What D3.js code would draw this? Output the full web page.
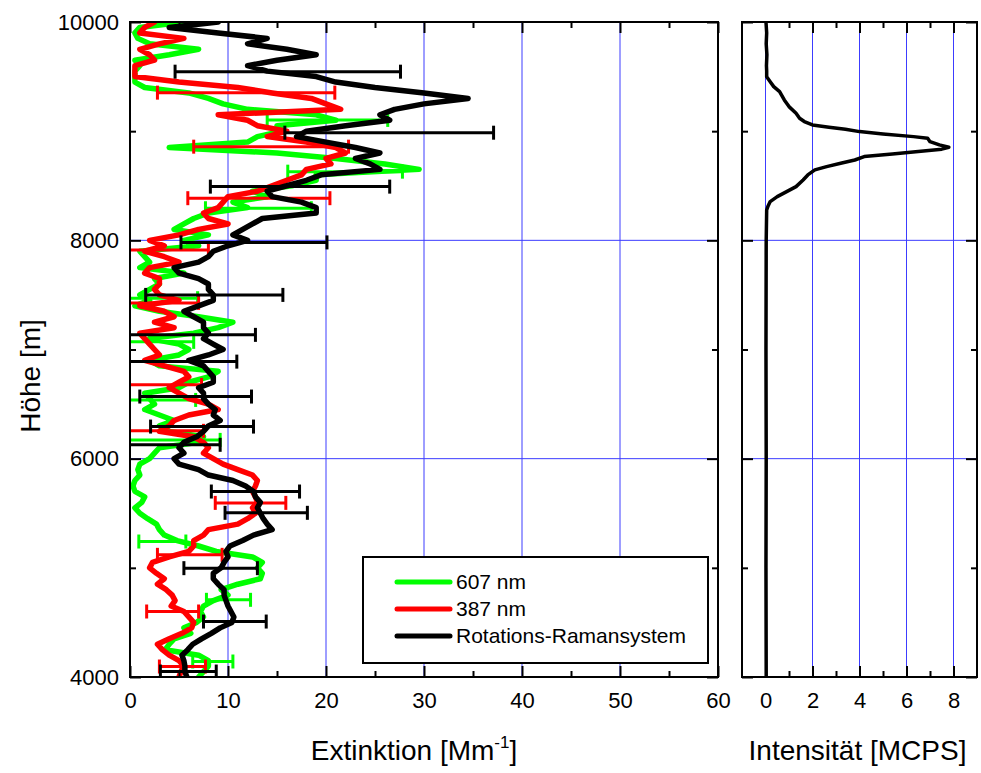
<!DOCTYPE html>
<html><head><meta charset="utf-8">
<script src="https://cdn.jsdelivr.net/npm/d3@7"></script>
<style>
html,body{margin:0;padding:0;background:#fff;}
svg{display:block;font-family:"Liberation Sans",Arial,sans-serif;}
</style></head>
<body>
<svg id="chart" width="981" height="773"></svg>
<script>
// ---------- DATA ----------
const altitudes = [10000,9950,9900,9850,9800,9750,9700,9650,9600,9550,9500,9450,9400,9350,9300,9250,9200,9150,9100,9050,
9000,8950,8900,8850,8800,8750,8700,8650,8600,8550,8500,8450,8400,8350,8300,8250,8200,8150,8100,8050,
8000,7950,7900,7850,7800,7750,7700,7650,7600,7550,7500,7450,7400,7350,7300,7250,7200,7150,7100,7050,
7000,6950,6900,6850,6800,6750,6700,6650,6600,6550,6500,6450,6400,6350,6300,6250,6200,6150,6100,6050,
6000,5950,5900,5850,5800,5750,5700,5650,5600,5550,5500,5450,5400,5350,5300,5250,5200,5150,5100,5050,
5000,4950,4900,4850,4800,4750,4700,4650,4600,4550,4500,4450,4400,4350,4300,4250,4200,4150,4100,4050,4000];

const ext607 = [5.5,1,0.5,0.8,2,7,4,0.5,1,0.5,0.5,0.5,1.5,6,8,9.5,12,19,21,15,
15.5,13,12,4,15,21,26,29.5,19,19,16.5,12.5,14,10.5,12,8,6.5,5.5,4.5,8,
5.5,7,1,1.5,2,1,5.5,2.5,3,2,1,2,0.5,3,7,10.5,9,6.5,2,5,
6,5,2,3,9,8,6,5,1.5,2,2.5,1.5,3,4.5,3,4,7.5,7,3,2.5,
2,1,0.8,1,0.5,0.3,0.5,1.5,1.2,0.5,1,1.8,2.7,3,3.5,4.8,7,8.8,12.5,13.5,
13,13.5,13.3,11,9.3,10,8.5,7.5,7.2,7.5,6.8,5.5,6.2,4.5,4,3.6,7,8,8,7.5,7];

const ext387 = [2.5,1.5,1,5.5,3,1,2,2.5,0.5,0.5,0.5,5,11,14.5,18.5,20,21.5,9,12,13,
16,14,18,21,22,20,20.5,18,17.5,16,14.5,13,10,9.5,9,7.5,8,10,7,5,
2,3.5,1.5,3.5,5,2,1.5,3,3,2.5,3,5,1,3.5,4.5,2.5,4.5,1,1.5,2,
2.5,3,1.5,3.5,5.5,6,5,4,5,6,8,9,6,4.5,4,3,6.5,7.5,8,7.5,
8.5,9.5,11,12.5,13,12.8,12.5,12.8,13,12.5,12.8,12,11,8,7.5,6.5,6.5,6,4,2.3,
2,2.7,3.5,2.8,3.7,4.3,4.6,4.2,5.5,6,6.5,6.3,5.3,4,2.8,3.3,4,5,5.5,5.2,5];

const extRot = [9,4,9,14,12,16,19,15,12,14,19,21,25,30,34.5,30,27,25.5,26.5,22,
18,17,20,23,25.5,23,24.5,25.5,19.5,18,16,14,14.5,17.5,19,19,13.5,12.5,11.5,10.5,
12,10,8.5,8,7,4.5,5,7,8,8,8.5,8.5,7,5.5,6.5,7.5,7.5,8,7.5,8.5,
9.5,8,6,7.5,8,8.5,8.5,7,7.5,7.5,8,8.7,8.5,9.2,8,7.5,6.8,5.5,5,5.5,
4.5,5,7,8,10.5,11.8,12.6,12.8,13.3,13,13.3,13.6,14,14.5,12.6,11.5,10.2,9.8,10,9.6,
9.3,8.5,8.5,9,9.6,9.6,9.8,10,10.3,10.6,10.4,9.2,8.3,7.3,6.4,5.9,5.3,5.5,5.6,5.6,5.8];

// error bars: altitude, low, high
const err607Alt = [9103,8629,8294,7470,7070,6538,6172,5241,4707,4142];
const err607Lo  = [14.0,16.1,7.7,-0.5,-0.5,-0.5,-0.5,0.9,7.8,6.4];
const err607Hi  = [26.3,27.8,18.5,6.9,6.5,6.7,9.2,5.7,12.3,10.5];

const err387Alt = [9353,8858,8386,7912,7427,6676,6255,5595,5119,4600,4096];
const err387Lo  = [2.8,6.5,5.9,-0.5,-0.5,-0.5,-0.5,8.7,2.8,1.7,3.0];
const err387Hi  = [20.9,22.3,20.4,8.0,7.0,7.3,7.5,15.9,9.4,7.0,7.7];

const errRotAlt = [9545,8986,8492,7981,7500,7134,6889,6569,6294,6127,5699,5504,4997,4508,4050];
const errRotLo  = [4.6,15.8,8.2,5.2,1.6,-0.5,-0.5,1.0,2.1,-0.5,8.3,9.7,5.5,7.5,3.1];
const errRotHi  = [27.6,37.1,26.5,20.1,15.6,12.8,10.9,12.4,12.6,9.2,17.3,18.1,13.0,13.9,8.8];

const intAlt = [10000,9900,9800,9700,9600,9550,9499,9453,9408,9362,9286,9225,9164,9118,9088,9057,9036,9017,8996,8974,
8950,8935,8904,8874,8853,8835,8813,8791,8767,8736,8706,8675,8645,8599,8553,8492,8446,8400,8355,8309,8278,8000,7000,6000,5000,4000];
const intVal = [0.02,0.05,0.03,0.06,0.04,0.05,0.05,0.2,0.35,0.6,0.8,1.0,1.3,1.45,1.65,2.0,2.7,3.4,4.0,5.0,
6.3,6.9,7.0,7.4,7.8,7.5,6.5,5.4,4.2,3.8,3.2,2.6,2.1,1.8,1.6,1.3,0.9,0.5,0.2,0.1,0.05,0.03,0.02,0.03,0.02,0.03];

const seriesNames = ["607 nm","387 nm","Rotations-Ramansystem"];
const seriesColors = ["#00ff00","#ff0000","#000000"];

const xTicksLeft = [0,10,20,30,40,50,60];
const xMinorLeft = [5,15,25,35,45,55];
const xTicksRight = [0,2,4,6,8];
const xMinorRight = [1,3,5,7];
const yTicks = [4000,6000,8000,10000];
const yMinor = [5000,7000,9000];

// ---------- LAYOUT ----------
const svg = d3.select("#chart");
const yTop = 22, yBot = 677;
const L = {x0:130, x1:718};
const R = {x0:742, x1:977};
const y = d3.scaleLinear().domain([4000,10000]).range([yBot, yTop]);
const xL = d3.scaleLinear().domain([0,60]).range([L.x0, L.x1]);
const xR = d3.scaleLinear().domain([-1,9]).range([R.x0, R.x1]);
const gridColor = "#3c3cff";
const font = "22px";

const defs = svg.append("defs");
defs.append("clipPath").attr("id","clipL").append("rect")
  .attr("x",L.x0).attr("y",yTop).attr("width",L.x1-L.x0).attr("height",yBot-yTop);
defs.append("clipPath").attr("id","clipR").append("rect")
  .attr("x",R.x0).attr("y",yTop).attr("width",R.x1-R.x0).attr("height",yBot-yTop);

// grids
function grid(xs, xVals, x0, x1){
  const g = svg.append("g");
  g.selectAll("line.v").data(xVals).join("line")
    .attr("x1",d=>xs(d)).attr("x2",d=>xs(d)).attr("y1",yTop).attr("y2",yBot)
    .attr("stroke",gridColor).attr("stroke-width",1);
  g.selectAll("line.h").data([6000,8000]).join("line")
    .attr("x1",x0).attr("x2",x1).attr("y1",d=>y(d)).attr("y2",d=>y(d))
    .attr("stroke",gridColor).attr("stroke-width",1);
}
grid(xL,[10,20,30,40,50],L.x0,L.x1);
grid(xR,[0,2,4,6,8],R.x0,R.x1);

// series
const seriesVals = [ext607, ext387, extRot];
const errs = [
  {alt:err607Alt, lo:err607Lo, hi:err607Hi},
  {alt:err387Alt, lo:err387Lo, hi:err387Hi},
  {alt:errRotAlt, lo:errRotLo, hi:errRotHi}
];
const gL = svg.append("g").attr("clip-path","url(#clipL)");
const line = d3.line().x(d=>xL(d[1])).y(d=>y(d[0])).curve(d3.curveLinear);
seriesVals.forEach((vals,i)=>{
  const pts = altitudes.map((a,j)=>[a, vals[j]]);
  gL.append("path").datum(pts).attr("d",line)
    .attr("fill","none").attr("stroke",seriesColors[i]).attr("stroke-width",5.5)
    .attr("stroke-linejoin","round").attr("stroke-linecap","round");
  const e = errs[i];
  const eb = e.alt.map((a,j)=>({alt:a, lo:e.lo[j], hi:e.hi[j]}));
  const ge = gL.append("g").attr("stroke",seriesColors[i]).attr("stroke-width",3);
  ge.selectAll("line.bar").data(eb).join("line").attr("class","bar")
    .attr("x1",d=>xL(d.lo)).attr("x2",d=>xL(d.hi)).attr("y1",d=>y(d.alt)).attr("y2",d=>y(d.alt));
  ge.selectAll("line.capl").data(eb).join("line").attr("class","capl")
    .attr("x1",d=>xL(d.lo)).attr("x2",d=>xL(d.lo)).attr("y1",d=>y(d.alt)-7).attr("y2",d=>y(d.alt)+7);
  ge.selectAll("line.caph").data(eb).join("line").attr("class","caph")
    .attr("x1",d=>xL(d.hi)).attr("x2",d=>xL(d.hi)).attr("y1",d=>y(d.alt)-7).attr("y2",d=>y(d.alt)+7);
});

// intensity
const gR = svg.append("g").attr("clip-path","url(#clipR)");
gR.append("path").datum(intAlt.map((a,j)=>[a,intVal[j]]))
  .attr("d", d3.line().x(d=>xR(d[1])).y(d=>y(d[0])))
  .attr("fill","none").attr("stroke","#000").attr("stroke-width",3.5).attr("stroke-linejoin","round");

// axes
function styleAxis(g, labels){
  g.select(".domain").remove();
  g.selectAll(".tick line").attr("stroke","#000").attr("stroke-width",2);
  if(labels) g.selectAll(".tick text").attr("font-size",font).attr("fill","#000").attr("font-family","Liberation Sans, Arial, sans-serif");
  else g.selectAll(".tick text").remove();
}
function panelAxes(xs, x0, x1, majors, minors){
  styleAxis(svg.append("g").attr("transform",`translate(0,${yBot})`)
    .call(d3.axisBottom(xs).tickValues(majors).tickSize(-11).tickPadding(15).tickFormat(d3.format("d"))), true);
  styleAxis(svg.append("g").attr("transform",`translate(0,${yBot})`)
    .call(d3.axisBottom(xs).tickValues(minors).tickSize(-6)), false);
  styleAxis(svg.append("g").attr("transform",`translate(0,${yTop})`)
    .call(d3.axisTop(xs).tickValues(majors).tickSize(-11)), false);
  styleAxis(svg.append("g").attr("transform",`translate(0,${yTop})`)
    .call(d3.axisTop(xs).tickValues(minors).tickSize(-6)), false);
  styleAxis(svg.append("g").attr("transform",`translate(${x1},0)`)
    .call(d3.axisRight(y).tickValues(yTicks).tickSize(-11)), false);
  styleAxis(svg.append("g").attr("transform",`translate(${x1},0)`)
    .call(d3.axisRight(y).tickValues(yMinor).tickSize(-6)), false);
  styleAxis(svg.append("g").attr("transform",`translate(${x0},0)`)
    .call(d3.axisLeft(y).tickValues(yMinor).tickSize(-6)), false);
  svg.append("rect").attr("x",x0).attr("y",yTop).attr("width",x1-x0).attr("height",yBot-yTop)
    .attr("fill","none").attr("stroke","#000").attr("stroke-width",2);
}
panelAxes(xL, L.x0, L.x1, xTicksLeft, xMinorLeft);
styleAxis(svg.append("g").attr("transform",`translate(${L.x0},0)`)
  .call(d3.axisLeft(y).tickValues(yTicks).tickSize(-11).tickPadding(11).tickFormat(d3.format("d"))), true);
panelAxes(xR, R.x0, R.x1, xTicksRight, xMinorRight);
styleAxis(svg.append("g").attr("transform",`translate(${R.x0},0)`)
  .call(d3.axisLeft(y).tickValues(yTicks).tickSize(-11)), false);

// titles
const t1 = svg.append("text").attr("x",(L.x0+L.x1)/2-10).attr("y",760).attr("text-anchor","middle")
  .attr("font-size","28px").attr("fill","#000");
t1.append("tspan").text("Extinktion [Mm");
t1.append("tspan").attr("font-size","17px").attr("dy",-12).text("-1");
t1.append("tspan").attr("dy",12).text("]");
svg.append("text").attr("x",(R.x0+R.x1)/2-2).attr("y",760).attr("text-anchor","middle")
  .attr("font-size","28px").attr("fill","#000").text("Intensität [MCPS]");
svg.append("text").attr("transform","translate(40,376) rotate(-90)").attr("text-anchor","middle")
  .attr("font-size","28px").attr("fill","#000").text("Höhe [m]");

// legend
const lg = svg.append("g");
lg.append("rect").attr("x",363).attr("y",557).attr("width",345).attr("height",106)
  .attr("fill","#fff").attr("stroke","#000").attr("stroke-width",2);
seriesNames.forEach((n,i)=>{
  const yy = 582 + i*27;
  lg.append("line").attr("x1",397).attr("x2",450).attr("y1",yy).attr("y2",yy)
    .attr("stroke",seriesColors[i]).attr("stroke-width",5).attr("stroke-linecap","round");
  lg.append("text").attr("x",456).attr("y",yy+7).attr("font-size","21px").attr("fill","#000").text(n);
});
</script>
</body></html>
